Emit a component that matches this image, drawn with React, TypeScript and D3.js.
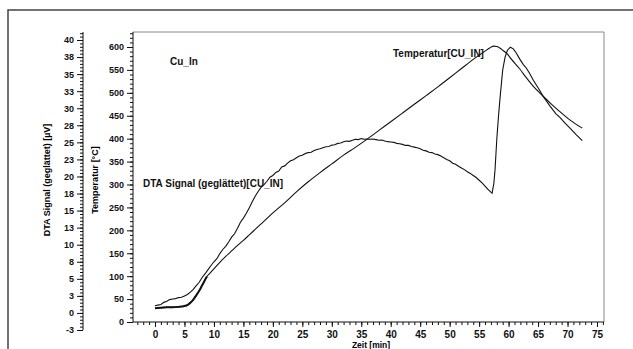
import React, { useEffect, useRef } from 'react';
import * as d3 from 'd3';

// time axis (min)
const timeTicks = [0, 5, 10, 15, 20, 25, 30, 35, 40, 45, 50, 55, 60, 65, 70, 75];
// temperature axis (°C)
const tempTicks = [0, 50, 100, 150, 200, 250, 300, 350, 400, 450, 500, 550, 600];
// DTA axis (µV), printed rounded like the original plot
const dtaTicks = [-2.5, 0, 2.5, 5, 7.5, 10, 12.5, 15, 17.5, 20, 22.5, 25, 27.5, 30, 32.5, 35, 37.5, 40];
const dtaTickLabels = ['-3', '0', '3', '5', '8', '10', '13', '15', '18', '20', '23', '25', '28', '30', '33', '35', '38', '40'];

// Temperatur[CU_IN]
const tempTime = [0, 1, 2, 3, 4, 5, 5.5, 6, 6.5, 7, 7.5, 8, 8.5, 8.8, 9.3, 10, 11, 12, 13, 14, 15, 16, 17, 18, 19, 20, 22, 24, 26, 28, 30, 32, 34, 36, 38, 40, 42, 44, 46, 48, 50, 52, 54, 55, 56, 56.8, 57.5, 58, 58.5, 59, 59.7, 60.5, 61.9, 63, 64.2, 65.9, 67.3, 68.7, 70.5, 72.5];
const tempValues = [30, 31, 32, 32, 33, 35, 37, 42, 49, 58, 68, 80, 92, 99, 106, 116, 130, 143, 155, 167, 178, 190, 202, 214, 226, 238, 260, 284, 306, 326, 345, 364, 381, 399, 418, 437, 456, 475, 494, 513, 533, 553, 573, 582, 591, 598, 602, 601, 598, 593, 586, 573, 552, 533, 514, 492, 475, 459, 440, 423];

// DTA Signal (geglättet)[CU_IN]
const dtaTime = [0, 0.5, 1, 1.5, 2, 2.5, 3, 3.5, 4, 4.5, 5, 5.5, 6, 6.5, 7, 7.5, 8, 8.5, 9, 9.5, 10, 10.5, 11, 11.5, 12, 12.5, 13, 13.5, 14, 14.5, 15, 15.5, 16, 16.5, 17, 17.5, 18, 18.5, 19, 19.5, 20, 20.5, 21, 21.5, 22, 22.5, 23, 23.5, 24, 24.5, 25, 25.5, 26, 26.5, 27, 27.5, 28, 28.5, 29, 29.5, 30, 30.5, 31, 31.5, 32, 32.5, 33, 33.5, 34, 34.5, 35, 35.5, 36, 36.5, 37, 37.5, 38, 38.5, 39, 39.5, 40, 40.5, 41, 41.5, 42, 42.5, 43, 43.5, 44, 44.5, 45, 45.5, 46, 46.5, 47, 47.5, 48, 48.5, 49, 49.5, 50, 50.5, 51, 51.5, 52, 52.5, 53, 53.5, 54, 54.5, 55, 55.5, 56, 56.5, 57, 57.2, 57.5, 57.7, 58, 58.3, 58.6, 59, 59.4, 59.8, 60.3, 60.8, 61.3, 61.9, 62.5, 63, 63.5, 64.2, 65, 65.9, 67, 68, 68.7, 69.5, 70.5, 71.5, 72.5];
const dtaValues = [1.05, 1.15, 1.25, 1.55, 1.7, 1.95, 2.05, 2.1, 2.25, 2.3, 2.5, 2.7, 3.05, 3.45, 4.0, 4.5, 5.2, 5.75, 6.35, 6.95, 7.5, 7.95, 8.7, 9.3, 9.75, 10.4, 11.1, 11.6, 12.4, 13.3, 13.9, 14.6, 15.4, 16.3, 17.1, 17.8, 18.4, 18.8, 19.3, 19.9, 20.15, 20.6, 20.8, 21.4, 21.55, 21.95, 22.3, 22.45, 22.75, 23.0, 23.1, 23.35, 23.5, 23.55, 23.8, 23.95, 24.05, 24.2, 24.35, 24.4, 24.6, 24.65, 24.85, 24.9, 25.1, 25.2, 25.15, 25.3, 25.45, 25.4, 25.55, 25.45, 25.5, 25.45, 25.5, 25.4, 25.3, 25.35, 25.2, 25.1, 25.05, 25.0, 24.85, 24.8, 24.7, 24.55, 24.55, 24.4, 24.3, 24.2, 24.05, 23.85, 23.75, 23.55, 23.5, 23.3, 23.2, 23.0, 22.75, 22.5, 22.3, 21.95, 21.8, 21.5, 21.25, 21.0, 20.7, 20.45, 20.15, 19.85, 19.45, 19.05, 18.6, 18.1, 17.7, 17.55, 19.0, 21.0, 25.5, 29.0, 32.0, 35.6, 37.5, 38.5, 38.95, 38.7, 38.1, 37.2, 36.4, 35.9, 35.2, 34.1, 33.0, 31.7, 30.35, 29.2, 28.65, 27.9, 27.0, 26.1, 25.25];

const W = 633;
const H = 349;
const FONT = '"Liberation Sans", Arial, sans-serif';

const App = () => {
  const svgRef = useRef(null);

  useEffect(() => {
    const svg = d3.select(svgRef.current);
    svg.selectAll('*').remove();

    const left = 133, right = 604, top = 32, bottom = 322;
    const dtaAxisX = 83;

    const x = d3.scaleLinear().domain([0, 75]).range([155, 597]);
    const yT = d3.scaleLinear().domain([0, 600]).range([bottom, 47]);
    const yD = d3.scaleLinear().domain([-2.5, 40]).range([330, 40]);

    // outer frame
    svg.append('rect')
      .attr('x', 8).attr('y', 10).attr('width', 700).attr('height', 400)
      .attr('fill', 'none').attr('stroke', '#444').attr('stroke-width', 1.5);

    // plot frame (top / right)
    svg.append('path')
      .attr('d', `M${left},${top}H${right}V${bottom}`)
      .attr('fill', 'none').attr('stroke', '#888').attr('stroke-width', 1);

    const styleAxis = (g) => {
      g.selectAll('line').attr('stroke', '#111');
      g.selectAll('text')
        .attr('font-family', FONT)
        .attr('font-weight', 'bold')
        .attr('font-size', 9)
        .attr('fill', '#111');
    };

    // x axis
    const xMinor = d3.range(-3, 77, 1);
    const gx = svg.append('g').attr('transform', `translate(0,${bottom})`);
    gx.append('g').call(d3.axisBottom(x).tickValues(xMinor).tickSize(3).tickFormat(() => '')).call(g => g.select('.domain').remove());
    gx.append('g').call(d3.axisBottom(x).tickValues(timeTicks).tickSize(5).tickPadding(4).tickFormat(d3.format('d'))).call(g => g.select('.domain').remove());
    gx.append('line').attr('x1', left).attr('x2', right).attr('stroke', '#111');
    gx.call(styleAxis);
    gx.selectAll('text').attr('font-size', 10);

    // temperature axis
    const tMinor = d3.range(0, 631, 10);
    const gt = svg.append('g').attr('transform', `translate(${left},0)`);
    gt.append('g').call(d3.axisLeft(yT).tickValues(tMinor).tickSize(3).tickFormat(() => '')).call(g => g.select('.domain').remove());
    gt.append('g').call(d3.axisLeft(yT).tickValues(tempTicks).tickSize(6).tickPadding(3).tickFormat(d3.format('d'))).call(g => g.select('.domain').remove());
    gt.append('line').attr('y1', top).attr('y2', bottom).attr('stroke', '#111');
    gt.call(styleAxis);

    // DTA axis
    const dMinor = d3.range(-2.5, 41.01, 0.5);
    const gd = svg.append('g').attr('transform', `translate(${dtaAxisX},0)`);
    gd.append('g').call(d3.axisLeft(yD).tickValues(dMinor).tickSize(3).tickFormat(() => '')).call(g => g.select('.domain').remove());
    gd.append('g').call(d3.axisLeft(yD).tickValues(dtaTicks).tickSize(6).tickPadding(3).tickFormat((d, i) => dtaTickLabels[i])).call(g => g.select('.domain').remove());
    gd.append('line').attr('y1', top).attr('y2', yD(-2.5)).attr('stroke', '#111');
    gd.call(styleAxis);

    // axis titles
    svg.append('text')
      .attr('transform', 'translate(50,180) rotate(-90)')
      .attr('text-anchor', 'middle')
      .attr('font-family', FONT).attr('font-weight', 'bold').attr('font-size', 9)
      .text('DTA Signal (geglättet)  [µV]');
    svg.append('text')
      .attr('transform', 'translate(98,180) rotate(-90)')
      .attr('text-anchor', 'middle')
      .attr('font-family', FONT).attr('font-weight', 'bold').attr('font-size', 9)
      .text('Temperatur [°C]');
    svg.append('text')
      .attr('x', 371).attr('y', 348)
      .attr('text-anchor', 'middle')
      .attr('font-family', FONT).attr('font-weight', 'bold').attr('font-size', 8.5)
      .text('Zeit  [min]');

    // curves
    const tempData = tempTime.map((t, i) => ({ t, v: tempValues[i] }));
    const dtaData = dtaTime.map((t, i) => ({ t, v: dtaValues[i] }));

    const tempLine = d3.line().x(d => x(d.t)).y(d => yT(d.v)).curve(d3.curveMonotoneX);
    const dtaLine = d3.line().x(d => x(d.t)).y(d => yD(d.v));

    svg.append('path').datum(dtaData)
      .attr('d', dtaLine).attr('fill', 'none').attr('stroke', '#111').attr('stroke-width', 1.1);
    svg.append('path').datum(tempData)
      .attr('d', tempLine).attr('fill', 'none').attr('stroke', '#111').attr('stroke-width', 1.1);
    svg.append('path').datum(tempData.filter(d => d.t <= 8.8))
      .attr('d', tempLine).attr('fill', 'none').attr('stroke', '#111').attr('stroke-width', 2);

    // annotations
    const note = (tx, ty, s) => svg.append('text')
      .attr('x', tx).attr('y', ty)
      .attr('font-family', FONT).attr('font-weight', 'bold').attr('font-size', 10)
      .attr('fill', '#111')
      .text(s);
    note(170, 65, 'Cu_In');
    note(393, 57, 'Temperatur[CU_IN]');
    note(143, 187, 'DTA Signal (geglättet)[CU_IN]');
  }, []);

  return (
    <svg ref={svgRef} width={W} height={H}
      style={{ position: 'absolute', left: 0, top: 0, background: '#fff' }} />
  );
};

export default App;
